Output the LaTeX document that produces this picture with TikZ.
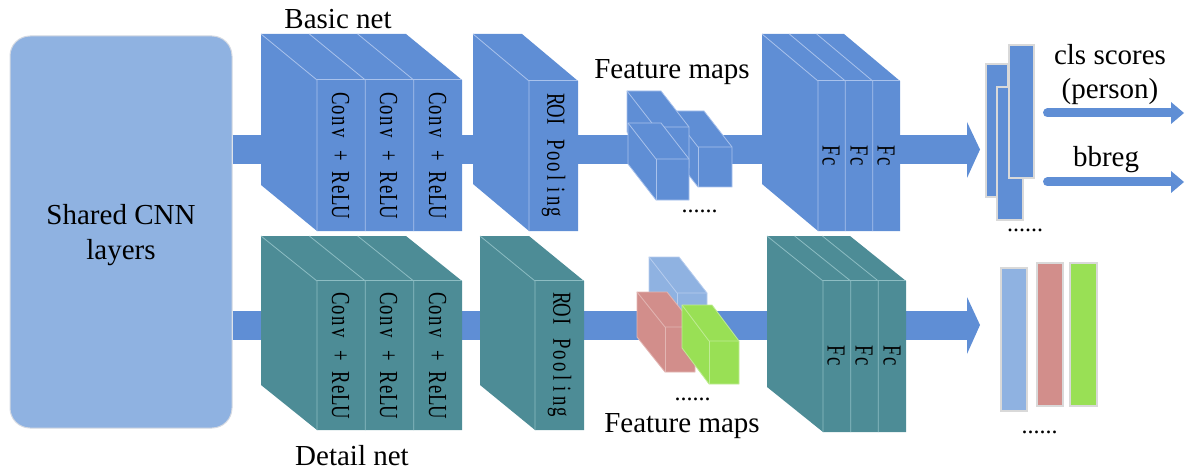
\documentclass[tikz,border=0pt]{standalone}
\usepackage{fontspec}
\setmainfont{LiberationSerif}[Extension=.ttf, UprightFont=*-Regular, BoldFont=*-Bold, ItalicFont=*-Italic, BoldItalicFont=*-BoldItalic]
\usetikzlibrary{calc}

\definecolor{netblue}{HTML}{5F8ED5}
\definecolor{blueline}{HTML}{A9C2EC}
\definecolor{netteal}{HTML}{4D8C96}
\definecolor{tealline}{HTML}{8DBDC3}
\definecolor{sharedfill}{HTML}{8FB2E1}
\definecolor{sharedline}{HTML}{D4D9E2}
\definecolor{maplight}{HTML}{8FB2E1}
\definecolor{maplightline}{HTML}{B7CDEE}
\definecolor{mapred}{HTML}{D28E8B}
\definecolor{mapredline}{HTML}{E2B6B3}
\definecolor{mapgreen}{HTML}{99E055}
\definecolor{mapgreenline}{HTML}{C0EC96}
\definecolor{rectline}{HTML}{D9D9D9}

% fixed-pitch lettering for the labels inside the slabs
\makeatletter
\newcommand\monotext[1]{\scalebox{0.72}[1]{\@tfor\mychar:=#1\do{\makebox[15.7pt]{\mychar}}}}
\makeatother

\tikzset{
  lbl/.style={inner sep=0pt, font=\rmfamily\fontsize{29}{35}\selectfont},
  dots/.style={inner sep=0pt, anchor=base, font=\rmfamily\fontsize{24}{28}\selectfont},
  slablabel/.style={inner sep=0pt, rotate=-90, font=\rmfamily\fontsize{26}{30}\selectfont},
  bluefill/.style={fill=netblue},
  blueedge/.style={draw=blueline, line width=0.8pt},
  tealfill/.style={fill=netteal},
  tealedge/.style={draw=tealline, line width=0.8pt},
  bluemapfill/.style={fill=netblue},
  bluemapedge/.style={draw=blueline, line width=0.8pt},
  lightmapfill/.style={fill=maplight},
  lightmapedge/.style={draw=maplightline, line width=0.8pt},
  redmapfill/.style={fill=mapred},
  redmapedge/.style={draw=mapredline, line width=0.8pt},
  greenmapfill/.style={fill=mapgreen},
  greenmapedge/.style={draw=mapgreenline, line width=0.8pt},
  shaft/.style={draw=netblue, line width=29pt},
  thinshaft/.style={draw=netblue, line width=9pt, line cap=round},
  outrect/.style={inner sep=0pt, line width=1.3pt},
}

% extruded block made of slabs; front face (#2,#3)-(#4,#5), depth (#6,#7)
\newcommand\slabblock[9]{%
  \fill[#9fill] (#2-#6,#3-#7) -- (#4-#6,#3-#7) -- (#4,#3) -- (#4,#5) -- (#2,#5) -- (#2-#6,#5-#7) -- cycle;
  \node[inner sep=0pt, minimum width={(#4-#2)*1pt}, minimum height={(#5-#3)*1pt}] (#1) at ({(#2+#4)/2},{(#3+#5)/2}) {};
  \draw[#9edge] (#1.north west) -- (#1.north east);
  \foreach \i in {1,...,#8} {
    \pgfmathsetmacro\xs{#2+(\i-1)*(#4-#2)/#8}
    \draw[#9edge] (\xs-#6,#3-#7) -- (\xs,#3) -- (\xs,#5);
  }%
}

% small feature-map cuboid
\newcommand\featbox[8]{%
  \fill[#8fill] (#2-#6,#3-#7) -- (#4-#6,#3-#7) -- (#4,#3) -- (#4,#5) -- (#2,#5) -- (#2-#6,#5-#7) -- cycle;
  \node[inner sep=0pt, minimum width={(#4-#2)*1pt}, minimum height={(#5-#3)*1pt}] (#1) at ({(#2+#4)/2},{(#3+#5)/2}) {};
  \draw[#8edge] (#2-#6,#3-#7) -- (#4-#6,#3-#7) -- (#4,#3) -- (#4,#5) -- (#2,#5) -- (#2-#6,#5-#7) -- cycle;
  \draw[#8edge] (#2-#6,#3-#7) -- (#2,#3) -- (#4,#3);
  \draw[#8edge] (#2,#3) -- (#2,#5);
}

\begin{document}
\begin{tikzpicture}[x=1pt, y=-1pt]
\useasboundingbox (0,0) rectangle (1185,473);

% shared trunk
\node[draw=sharedline, line width=1pt, fill=sharedfill, rounded corners=20pt, inner sep=0pt,
      minimum width=222pt, minimum height=392pt] (shared) at (121,232) {};
\node[lbl, anchor=base] (sharedA) at (121,224) {Shared CNN};
\node[lbl, anchor=base] (sharedB) at (121,259) {layers};

% main flow arrows of both branches
\coordinate (headT) at (967,149.5);
\coordinate (tipT) at (980,149.5);
\coordinate (headB) at (967,325);
\coordinate (tipB) at (980,325);
\draw[shaft] (shared.east |- headT) -- (headT);
\fill[netblue] (967,122) -- (tipT) -- (967,178) -- cycle;
\draw[shaft] (shared.east |- headB) -- (headB);
\fill[netblue] (967,297) -- (tipB) -- (967,354) -- cycle;

% ---------------- basic net ----------------
\slabblock{convT}{317}{80}{462}{231}{56}{46}{3}{blue}
\slabblock{roiT}{529}{81}{578}{231}{56}{47}{1}{blue}
\slabblock{fcT}{818}{81}{900}{231}{56}{47}{3}{blue}
\node[lbl, anchor=base] (basiclbl) at (338,29) {Basic net};

\foreach \cx/\nm in {340.5/cT1, 388.5/cT2, 437.5/cT3}
  \node[slablabel] (\nm) at (\cx,155.5) {\monotext{Conv~+~ReLU}};
\node[slablabel] (roiTlbl) at (553.5,156) {\monotext{ROI~Pooling}};
\foreach \cx/\nm in {831/fT1, 859/fT2, 886/fT3}
  \node[slablabel] (\nm) at (\cx,156) {\monotext{Fc}};

\featbox{fmTright}{698}{147}{732}{187}{28}{36}{bluemap}
\featbox{fmTback}{655}{127}{689}{168}{28}{36}{bluemap}
\featbox{fmTfront}{656}{159}{689}{200}{28}{36}{bluemap}
\node[lbl, anchor=base] (featTlbl) at (672,79) {Feature maps};
\node[dots] (dotsT1) at (699.5,212) {......};

% outputs of the basic net
\node[outrect, draw=rectline, fill=netblue, minimum width=22pt, minimum height=133pt] (oT1) at (997,130.5) {};
\node[outrect, draw=rectline, fill=netblue, minimum width=26pt, minimum height=133pt] (oT3) at (1010,153.5) {};
\node[outrect, draw=rectline, fill=netblue, minimum width=25pt, minimum height=133pt] (oT2) at (1021.5,111.5) {};
\node[dots] (dotsT2) at (1025,231) {......};

\coordinate (clsS) at (1047.5,113);
\coordinate (clsE) at (1172,113);
\coordinate (bbS) at (1047.5,182);
\coordinate (bbE) at (1172,182);
\draw[thinshaft] (clsS) -- (clsE);
\fill[netblue] (1171,102) -- (1184,113) -- (1171,124) -- cycle;
\draw[thinshaft] (bbS) -- (bbE);
\fill[netblue] (1171,171) -- (1184,182) -- (1171,193) -- cycle;
\node[lbl, anchor=base] (cls1) at (1110,65) {cls scores};
\node[lbl, anchor=base] (cls2) at (1110,99) {(person)};
\node[lbl, anchor=base] (bbreg) at (1106,167) {bbreg};

% ---------------- detail net ----------------
\slabblock{convB}{317}{281}{462}{430}{56}{45}{3}{teal}
\slabblock{roiB}{535}{281}{584}{430}{55}{45}{1}{teal}
\slabblock{fcB}{823}{281}{906}{432}{56}{45}{3}{teal}
\node[lbl, anchor=base] (detaillbl) at (352,465) {Detail net};

\foreach \cx/\nm in {340.5/cB1, 388.5/cB2, 437.5/cB3}
  \node[slablabel] (\nm) at (\cx,355.5) {\monotext{Conv~+~ReLU}};
\node[slablabel] (roiBlbl) at (559.5,355.5) {\monotext{ROI~Pooling}};
\foreach \cx/\nm in {836/fB1, 864/fB2, 892/fB3}
  \node[slablabel] (\nm) at (\cx,356) {\monotext{Fc}};

\featbox{fmBlight}{677}{293}{707}{337}{28}{36}{lightmap}
\featbox{fmBred}{665}{327}{695}{372}{28}{35}{redmap}
\featbox{fmBgreen}{709}{341}{739}{384}{27}{36}{greenmap}
\node[dots] (dotsB1) at (692.5,400) {......};
\node[lbl, anchor=base] (featBlbl) at (682,432) {Feature maps};

% outputs of the detail net
\node[outrect, draw=rectline, fill=maplight, minimum width=26pt, minimum height=143pt] (oB1) at (1014,339.5) {};
\node[outrect, draw=rectline, fill=mapred, minimum width=26pt, minimum height=143pt] (oB2) at (1050,334.5) {};
\node[outrect, draw=rectline, fill=mapgreen, minimum width=27pt, minimum height=143pt] (oB3) at (1083.5,334.5) {};
\node[dots] (dotsB2) at (1039.5,433) {......};
\end{tikzpicture}
\end{document}
